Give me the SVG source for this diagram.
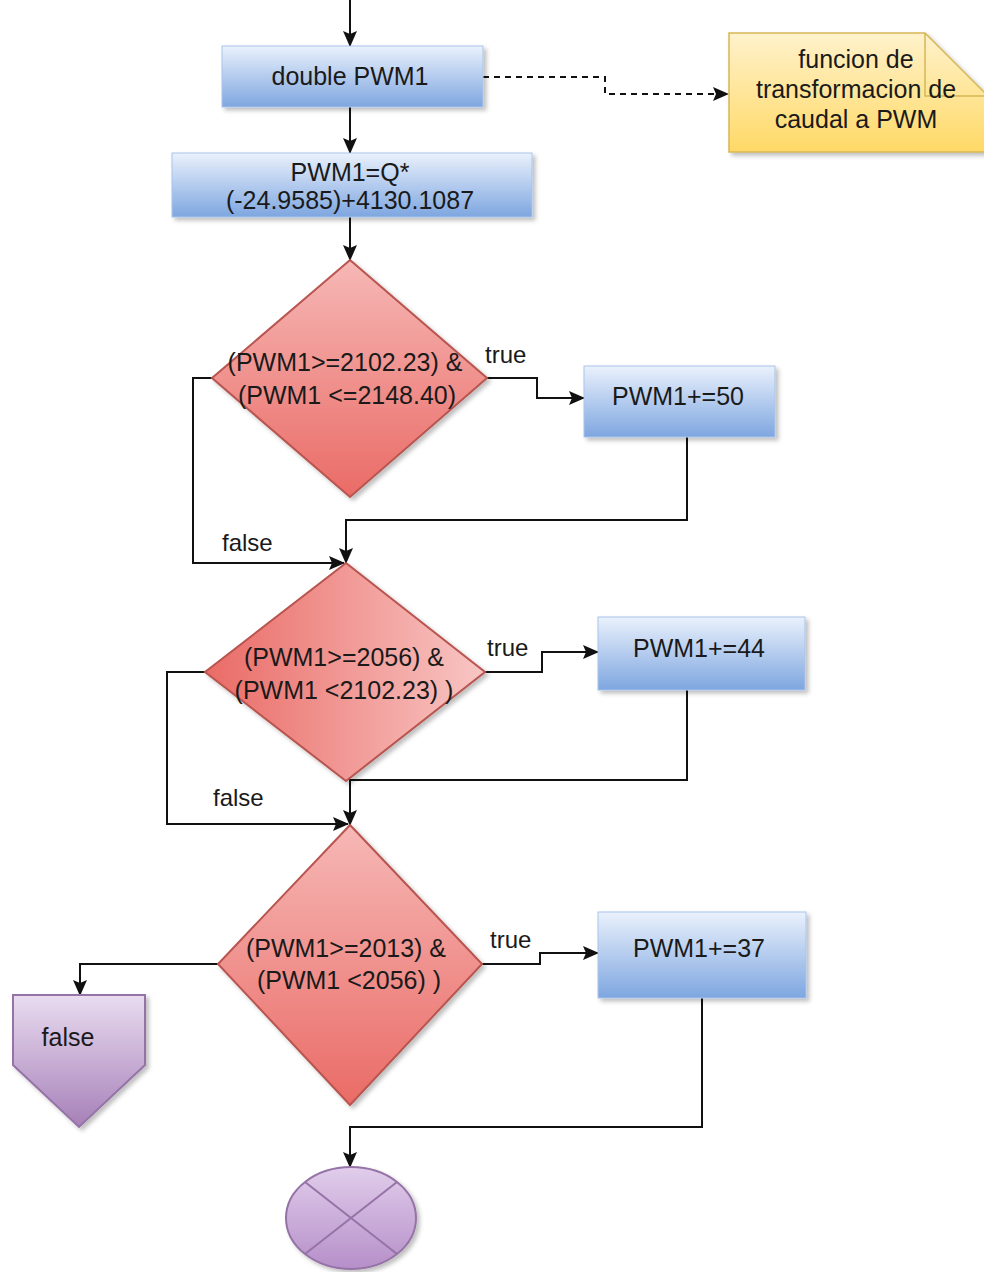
<svg xmlns="http://www.w3.org/2000/svg" width="984" height="1272" viewBox="0 0 984 1272">
<defs>
  <linearGradient id="gBlue" x1="0" y1="0" x2="0" y2="1">
    <stop offset="0" stop-color="#eaf1fc"/>
    <stop offset="1" stop-color="#7ea6e0"/>
  </linearGradient>
  <linearGradient id="gRedV" x1="0" y1="0" x2="0" y2="1">
    <stop offset="0" stop-color="#f6b8b6"/>
    <stop offset="1" stop-color="#ea6b66"/>
  </linearGradient>
  <linearGradient id="gRedH" x1="0" y1="0" x2="1" y2="0">
    <stop offset="0" stop-color="#ea6b66"/>
    <stop offset="1" stop-color="#f8c6c4"/>
  </linearGradient>
  <linearGradient id="gYellow" x1="0" y1="0" x2="0" y2="1">
    <stop offset="0" stop-color="#fff2cc"/>
    <stop offset="1" stop-color="#ffd966"/>
  </linearGradient>
  <linearGradient id="gPurple" x1="0" y1="0" x2="0" y2="1">
    <stop offset="0" stop-color="#e9dcf0"/>
    <stop offset="1" stop-color="#a680b8"/>
  </linearGradient>
  <linearGradient id="gPurple2" x1="0" y1="0" x2="0" y2="1">
    <stop offset="0" stop-color="#e1cdeb"/>
    <stop offset="1" stop-color="#b58fc9"/>
  </linearGradient>
  <filter id="sh" x="-10%" y="-10%" width="130%" height="130%">
    <feDropShadow dx="3" dy="3" stdDeviation="2" flood-color="#000" flood-opacity="0.25"/>
  </filter>
  <marker id="arr" markerUnits="userSpaceOnUse" markerWidth="16" markerHeight="14" refX="15" refY="7" orient="auto">
    <path d="M0,0 L16,7 L0,14 L3,7 Z" fill="#111"/>
  </marker>
</defs>
<style>
  .t { font-family: "Liberation Sans", Arial, sans-serif; font-size: 25px; fill: #1a1a1a; text-anchor: middle; }
  .lbl { font-family: "Liberation Sans", Arial, sans-serif; font-size: 24px; fill: #1a1a1a; }
  .c { fill: none; stroke: #111; stroke-width: 2; }
  .box { fill: url(#gBlue); stroke: #a9c4eb; stroke-width: 1; filter: url(#sh); }
  .dia { stroke: #b85450; stroke-width: 2; filter: url(#sh); }
  .pur { stroke: #9673a6; stroke-width: 2; filter: url(#sh); }
</style>

<g id="connectors">
  <path class="c" d="M350,0 L350,46" marker-end="url(#arr)"/>
  <path class="c" d="M350,107 L350,153" marker-end="url(#arr)"/>
  <path class="c" d="M350,217 L350,260" marker-end="url(#arr)"/>
  <path class="c" d="M483,77 L605,77 L605,94 L728,94" stroke-dasharray="6 5" marker-end="url(#arr)"/>
  <path class="c" d="M487,378 L537,378 L537,398 L584,398" marker-end="url(#arr)"/>
  <path class="c" d="M687,437 L687,520 L346,520 L346,563" marker-end="url(#arr)"/>
  <path class="c" d="M212,378 L193,378 L193,563 L344,563" marker-end="url(#arr)"/>
  <path class="c" d="M485,672 L542,672 L542,652 L598,652" marker-end="url(#arr)"/>
  <path class="c" d="M687,690 L687,780 L350,780 L350,825" marker-end="url(#arr)"/>
  <path class="c" d="M205,672 L167,672 L167,824 L348,824" marker-end="url(#arr)"/>
  <path class="c" d="M482,964 L540,964 L540,953 L598,953" marker-end="url(#arr)"/>
  <path class="c" d="M702,998 L702,1127 L350,1127 L350,1167" marker-end="url(#arr)"/>
  <path class="c" d="M218,964 L80,964 L80,995" marker-end="url(#arr)"/>
  <text class="lbl" x="485" y="363">true</text>
  <text class="lbl" x="222" y="551">false</text>
  <text class="lbl" x="487" y="656">true</text>
  <text class="lbl" x="213" y="806">false</text>
  <text class="lbl" x="490" y="948">true</text>
</g>

<g id="box-double">
  <rect class="box" x="222" y="46" width="261" height="61"/>
  <text class="t" x="350" y="85">double PWM1</text>
</g>

<g id="note">
  <path d="M729,33 L925,33 L988,96 L988,152 L729,152 Z" fill="url(#gYellow)" stroke="#d6b656" stroke-width="1.5" filter="url(#sh)"/>
  <path d="M925,33 L925,96 L988,96" fill="none" stroke="#d6b656" stroke-width="1.5"/>
  <text class="t" x="856" y="68">funcion de</text>
  <text class="t" x="856" y="98">transformacion de</text>
  <text class="t" x="856" y="128">caudal a PWM</text>
</g>

<g id="box-formula">
  <rect class="box" x="172" y="153" width="360" height="64"/>
  <text class="t" x="350" y="181">PWM1=Q*</text>
  <text class="t" x="350" y="209">(-24.9585)+4130.1087</text>
</g>

<g id="decision1">
  <polygon class="dia" points="350,260 487,378 350,497 212,378" fill="url(#gRedV)"/>
  <text class="t" x="345" y="371">(PWM1&gt;=2102.23) &amp;</text>
  <text class="t" x="347" y="404">(PWM1 &lt;=2148.40)</text>
</g>

<g id="box-50">
  <rect class="box" x="584" y="366" width="191" height="71"/>
  <text class="t" x="678" y="405">PWM1+=50</text>
</g>

<g id="decision2">
  <polygon class="dia" points="346,563 485,672 346,781 205,672" fill="url(#gRedH)"/>
  <text class="t" x="344" y="666">(PWM1&gt;=2056) &amp;</text>
  <text class="t" x="344" y="699">(PWM1 &lt;2102.23) )</text>
</g>

<g id="box-44">
  <rect class="box" x="598" y="617" width="207" height="73"/>
  <text class="t" x="699" y="657">PWM1+=44</text>
</g>

<g id="decision3">
  <polygon class="dia" points="350,825 482,964 350,1105 218,964" fill="url(#gRedV)"/>
  <text class="t" x="346" y="957">(PWM1&gt;=2013) &amp;</text>
  <text class="t" x="349" y="989">(PWM1 &lt;2056) )</text>
</g>

<g id="box-37">
  <rect class="box" x="598" y="912" width="208" height="86"/>
  <text class="t" x="699" y="957">PWM1+=37</text>
</g>

<g id="offpage-false">
  <polygon class="pur" points="13,995 145,995 145,1065 79,1127 13,1065" fill="url(#gPurple)"/>
  <text class="t" x="68" y="1046">false</text>
</g>

<g id="end">
  <ellipse class="pur" cx="351" cy="1218" rx="65" ry="51" fill="url(#gPurple2)"/>
  <path d="M305,1182 L397,1254 M397,1182 L305,1254" stroke="#9673a6" stroke-width="2" fill="none"/>
</g>
</svg>
